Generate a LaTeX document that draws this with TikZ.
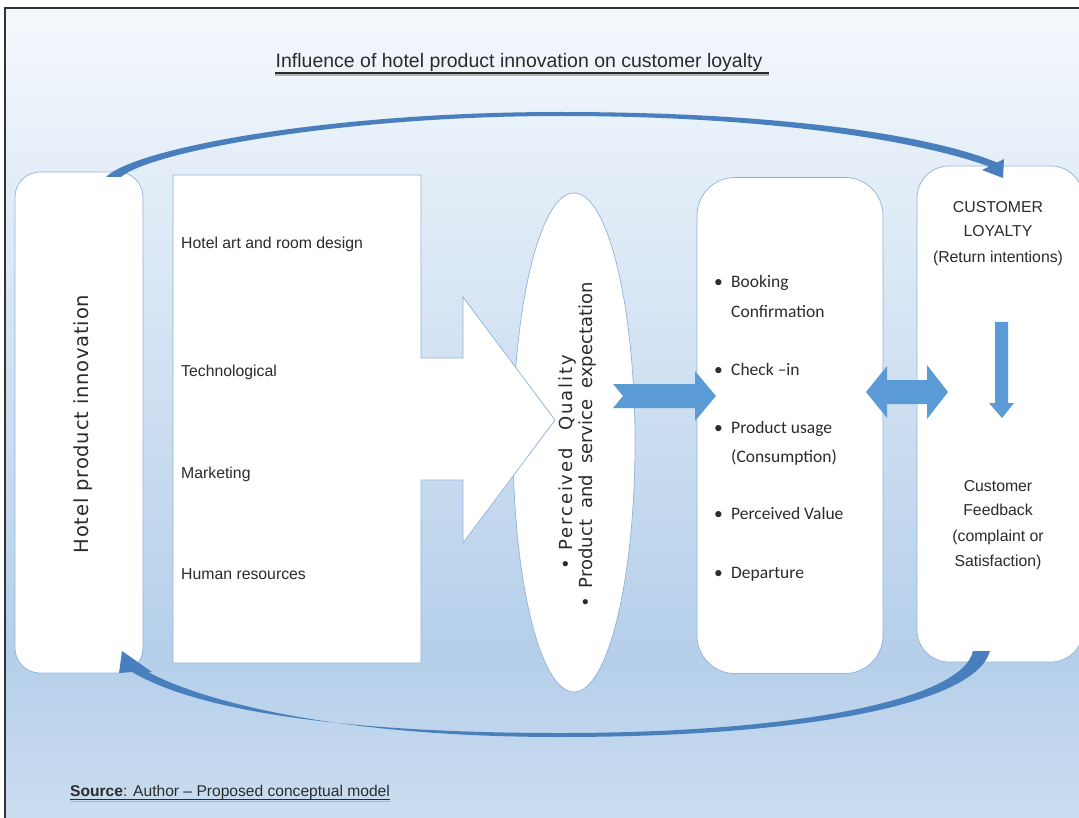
\documentclass[tikz,border=0pt]{standalone}
\usepackage{fontspec}
\setmainfont{Liberation Sans}
\newfontfamily\calfont{Carlito}
\newfontfamily\verfont[LetterSpace=4]{DejaVu Sans}
\newfontfamily\verfontb{DejaVu Sans}
\newfontfamily\verfontc[LetterSpace=10]{DejaVu Sans}
\usetikzlibrary{positioning}
\usetikzlibrary{shapes.geometric}
\definecolor{arrowblue}{HTML}{5B9BD5}
\definecolor{curveblue}{HTML}{4A7FBD}
\definecolor{edgeblue}{HTML}{8FB2D9}
\definecolor{bgtop}{HTML}{F4F8FC}
\definecolor{bgmid}{HTML}{B5CFEA}
\definecolor{bgbot}{HTML}{CBDDF0}
\definecolor{inktext}{HTML}{2B2B2B}

\begin{document}
\begin{tikzpicture}[x=1pt, y=-1pt,
  roundbox/.style={draw=edgeblue, fill=white, line width=0.7pt, inner sep=0pt},
  flowarrow/.style={fill=arrowblue, draw=none},
  looparrow/.style={fill=curveblue, draw=none},
  sidelabel/.style={anchor=base west, inner sep=0pt, font=\fontsize{15.8}{19}\selectfont, text=inktext},
  stagelabel/.style={anchor=base west, inner sep=0pt, font=\calfont\fontsize{17.5}{21}\selectfont, text=inktext},
  loyallabel/.style={anchor=base, inner sep=0pt, font=\fontsize{15.8}{19}\selectfont, text=inktext},
  turnedlabel/.style={rotate=90, inner sep=0pt, text=inktext}]
 \useasboundingbox (0,0) rectangle (1079,818);
 % background and frame
 \fill[top color=bgtop, bottom color=bgmid] (5,8) rectangle (1079,656);
 \fill[top color=bgmid, bottom color=bgbot] (5,655.5) rectangle (1079,818);
 \draw[line width=1.2pt, black!80] (5,818) -- (5,8) -- (1079,8);

 % title
 \node[anchor=base, inner sep=0pt, font=\fontsize{19.5}{23}\selectfont, text=inktext] (title) at (519,68) {Influence of hotel product innovation on customer loyalty};
 \draw[line width=1.6pt, black!30] ([yshift=-7pt]title.base west) -- ([yshift=-7pt, xshift=6pt]title.base east);
 \draw[line width=1.3pt, inktext] ([yshift=-5pt]title.base west) -- ([yshift=-5pt, xshift=6pt]title.base east);

 % boxes
 \node[roundbox, rounded corners=25pt, minimum width=128pt, minimum height=501pt] (innov) at (79,422.5) {};
 \node[roundbox, rounded corners=38pt, minimum width=186pt, minimum height=496pt] (stay) at (790,425.5) {};
 \node[roundbox, rounded corners=32pt, minimum width=166pt, minimum height=496pt] (loyal) at (1000,414) {};
 \node[roundbox, ellipse, minimum width=122pt, minimum height=499pt] (quality) at (574,442.5) {};

 % drivers box and its big arrow
 \draw[draw=edgeblue, fill=white, line width=0.7pt] (173,175) -- (421,175) -- (421,358) -- (463,358) -- (463,297)
   -- (555,420) -- (463,543) -- (463,480) -- (421,480) -- (421,663) -- (173,663) -- cycle;

 % texts
 \node[turnedlabel, anchor=base, font=\verfont\fontsize{19.5}{23}\selectfont] (innovtext) at (88,424) {Hotel product innovation};
 \node[sidelabel] (art) at (181,249) {Hotel art and room design};
 \node[sidelabel] (tech) at (181,376) {Technological};
 \node[sidelabel] (mkt) at (181,478) {Marketing};
 \node[sidelabel] (hr) at (181,579) {Human resources};

 \node[turnedlabel, anchor=base west, font=\verfontc\fontsize{18}{22}\selectfont] (percq) at (572,570) {•\hspace{9pt}Perceived\hspace{18pt}Quality};
 \node[turnedlabel, anchor=base west, font=\verfontb\fontsize{18}{22}\selectfont] (expect) at (592,608) {•\hspace{9pt}Product\hspace{11pt}and\hspace{11pt}service\hspace{11pt}expectation};

 \foreach \yb/\words [count=\i] in {288/Booking, 375/{Check –in}, 433/{Product usage}, 519/{Perceived Value}, 578/Departure}{
  \node[stagelabel] (dot\i) at (714,\yb) {•};
  \node[stagelabel] (stage\i) at (731,\yb) {\words};
 }
 \node[stagelabel] (stage1b) at (731,318) {Confirmation};
 \node[stagelabel] (stage3b) at (731,462) {(Consumption)};

 \foreach \yb/\words [count=\i] in {213/CUSTOMER, 237/LOYALTY, 263/{(Return intentions)}}
  \node[loyallabel] (loyal\i) at (998,\yb) {\words};
 \foreach \yb/\words [count=\i] in {491/Customer, 515/Feedback, 541/{(complaint or}, 566/{Satisfaction)}}
  \node[loyallabel] (feed\i) at (998,\yb) {\words};

 % block arrows
 \fill[flowarrow] (613,384) -- (695,384) -- (695,371) -- (716,396) -- (695,421) -- (695,408) -- (613,408) -- (623,396) -- cycle;
 \fill[flowarrow] (866,392) -- (887,366) -- (887,380) -- (927,380) -- (927,365) -- (948,392) -- (927,419) -- (927,404)
   -- (887,404) -- (887,418) -- cycle;
 \fill[flowarrow] (995,322) -- (1008,322) -- (1008,403) -- (1014,403) -- (1002,418) -- (989,403) -- (995,403) -- cycle;

 % curved loop arrows
 \fill[looparrow] (106,177) .. controls (135,148) and (330,112) .. (560,112) .. controls (780,112) and (930,135) .. (997,162.5)
   -- (1004,159) -- (1003,178) -- (982,170) -- (989,166.5) .. controls (925,143) and (780,116) .. (560,116)
   .. controls (340,116) and (150,152) .. (121,177) -- cycle;
 \fill[looparrow] (990,651) .. controls (975,705) and (800,737) .. (560,737) .. controls (350,737) and (210,705) .. (148,672)
   -- (152,672) -- (122,651) -- (119,673) -- (132,672) .. controls (200,712) and (350,733) .. (560,733)
   .. controls (795,733) and (962,700) .. (973,651) -- cycle;

 % source
 \node[anchor=base west, inner sep=0pt, font=\fontsize{15.6}{18}\selectfont, text=inktext] (source) at (70,796) {\textbf{Source}: Author – Proposed conceptual model};
 \draw[line width=1pt, black!30] ([yshift=-5pt]source.base west) -- ([yshift=-5pt]source.base east);
 \draw[line width=1pt, inktext] ([yshift=-3.5pt]source.base west) -- ([yshift=-3.5pt]source.base east);
\end{tikzpicture}
\end{document}
